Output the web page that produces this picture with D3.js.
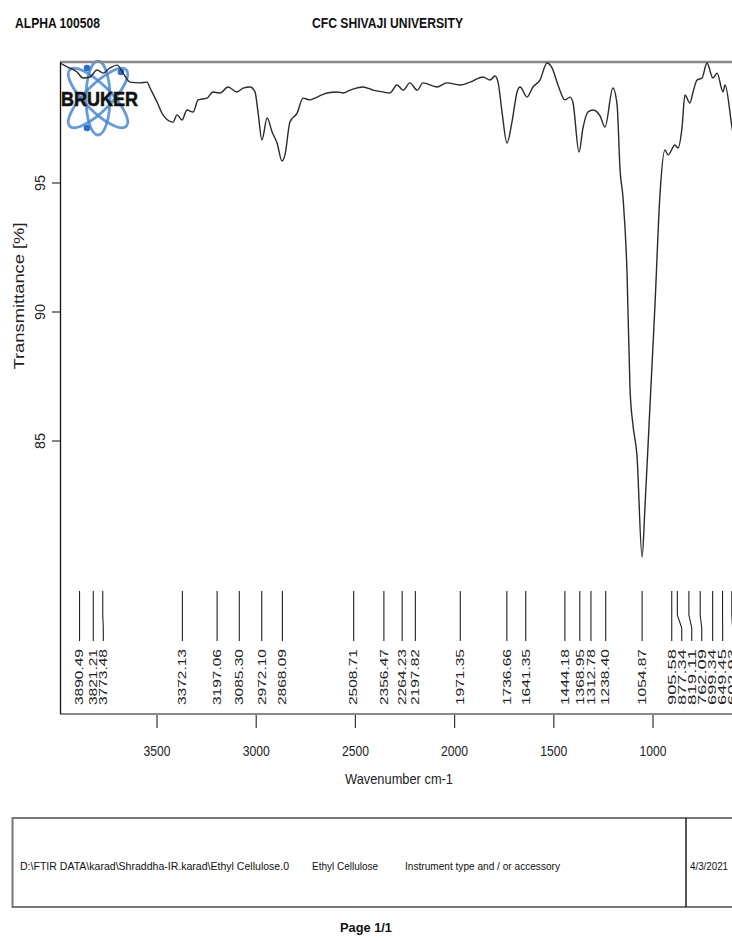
<!DOCTYPE html>
<html><head><meta charset="utf-8">
<script src="https://cdn.jsdelivr.net/npm/d3@7"></script>
<style>body{margin:0;background:#fff}svg{display:block}</style>
</head><body>
<svg id="c" width="732" height="941"></svg>
<script>
// ---- data ----
const wavenumbers = [3989,3953,3903,3873,3838,3802,3772,3737,3701,3671,3636,3586,3550,3535,3500,3470,3419,3399,3374,3349,3318,3293,3248,3218,3182,3142,3097,3066,3031,3006,2991,2971,2945,2920,2895,2870,2855,2830,2794,2764,2729,2693,2643,2593,2562,2527,2462,2411,2361,2326,2290,2260,2225,2189,2159,2089,2038,1973,1922,1857,1822,1796,1781,1761,1736,1711,1685,1670,1635,1605,1570,1534,1509,1479,1444,1418,1403,1373,1353,1328,1302,1267,1242,1202,1181,1166,1151,1131,1116,1101,1081,1055,1040,1015,990,965,940,924,889,874,854,839,814,798,778,753,728,698,677,647,637,602,590];
const transmittance = [99.65,99.50,99.30,99.07,99.11,99.38,99.26,99.46,99.57,99.26,98.91,98.88,98.91,98.68,98.14,97.64,97.36,97.64,97.44,97.83,97.75,98.22,98.29,98.53,98.49,98.72,98.53,98.68,98.72,98.53,97.75,96.67,97.52,96.98,96.55,95.85,96.09,97.36,97.71,98.29,98.22,98.33,98.49,98.53,98.49,98.60,98.72,98.60,98.53,98.49,98.80,98.60,98.88,98.60,98.88,98.72,98.88,98.80,98.91,99.11,98.99,99.15,98.91,97.75,96.55,97.36,98.53,98.72,98.33,98.72,98.99,99.65,99.46,98.80,98.22,98.33,98.10,96.20,97.13,97.75,97.83,97.60,97.17,98.68,98.02,95.50,94.42,91.55,87.05,85.62,84.46,80.50,82.52,86.40,90.27,94.53,96.28,96.09,96.47,96.36,97.13,98.41,98.10,98.53,98.99,99.07,99.65,99.07,99.26,98.53,98.80,97.17,96.6];
const peakLabels = ["3890.49","3821.21","3773.48","3372.13","3197.06","3085.30","2972.10","2868.09","2508.71","2356.47","2264.23","2197.82","1971.35","1736.66","1641.35","1444.18","1368.95","1312.78","1238.40","1054.87","905.58","877.34","819.11","762.09","699.34","649.45","602.93"];
const xTicks = [3500,3000,2500,2000,1500,1000];
const yTicks = [95,90,85];

// ---- layout ----
const svg = d3.select("#c");
const FONT = "'Liberation Sans', Arial, Helvetica, sans-serif";
const L = 60, T = 62, B = 714, R = 900;
const x = d3.scaleLinear().domain([3989, 1000]).range([L, 653]);
const y = d3.scaleLinear().domain([95, 85]).range([183, 441]);

function txt(s, px, py, size, len, opts = {}) {
  const t = svg.append("text")
    .attr("font-family", FONT).attr("font-size", size)
    .attr("font-weight", opts.bold ? "bold" : "normal")
    .attr("fill", opts.fill || "#111")
    .attr("text-anchor", opts.anchor || "start")
    .attr("textLength", len).attr("lengthAdjust", "spacingAndGlyphs")
    .text(s);
  if (opts.rot) t.attr("transform", `translate(${px},${py}) rotate(-90)`);
  else t.attr("x", px).attr("y", py);
  if (opts.dy) t.attr("dy", opts.dy);
  return t;
}

// header
txt("ALPHA 100508", 15, 28, 14, 85, {bold: true});
txt("CFC SHIVAJI UNIVERSITY", 312, 28, 14, 151, {bold: true});

// clip
svg.append("clipPath").attr("id", "pc").append("rect")
  .attr("x", L).attr("y", T - 2).attr("width", R - L).attr("height", B - T + 2);

// Bruker logo
const logo = svg.append("g").attr("clip-path", "url(#pc)");
const cx = 98, cy = 98;
[[45, 40, 13], [-45, 40, 13], [90, 37, 12]].forEach(([a, rx, ry]) => {
  logo.append("ellipse").attr("cx", cx).attr("cy", cy).attr("rx", rx).attr("ry", ry)
    .attr("transform", `rotate(${a},${cx},${cy})`)
    .attr("fill", "none").attr("stroke", "#4a8ad6").attr("stroke-width", 2.8).attr("opacity", 0.85);
});
[[87, 68], [87, 128], [121, 72]].forEach(([px, py]) => {
  logo.append("circle").attr("cx", px).attr("cy", py).attr("r", 3.3).attr("fill", "#2c6fc6");
});
logo.append("text").attr("x", 61).attr("y", 106).attr("font-family", FONT)
  .attr("font-weight", "900").attr("font-size", 21).attr("fill", "#111")
  .attr("stroke", "#111").attr("stroke-width", 0.6)
  .attr("textLength", 77).attr("lengthAdjust", "spacingAndGlyphs").text("BRUKER");

// frame
svg.append("line").attr("x1", L).attr("x2", R).attr("y1", T).attr("y2", T)
  .attr("stroke", "#888").attr("stroke-width", 2.4);
svg.append("line").attr("x1", L).attr("x2", R).attr("y1", B).attr("y2", B)
  .attr("stroke", "#888").attr("stroke-width", 2.2);
svg.append("line").attr("x1", L + 0.5).attr("x2", L + 0.5).attr("y1", T).attr("y2", B)
  .attr("stroke", "#111").attr("stroke-width", 1.3);

// spectrum
const pts = wavenumbers.map((w, i) => [x(w), y(transmittance[i])]);
svg.append("path").attr("clip-path", "url(#pc)")
  .attr("d", d3.line().curve(d3.curveMonotoneX)(pts))
  .attr("fill", "none").attr("stroke", "#2a2a2a").attr("stroke-width", 1.4);

// x axis ticks
const xg = svg.append("g");
xTicks.forEach(v => {
  xg.append("line").attr("x1", x(v)).attr("x2", x(v)).attr("y1", B + 1).attr("y2", B + 14)
    .attr("stroke", "#333").attr("stroke-width", 1.2);
  txt(String(v), x(v), 756, 15, 27, {anchor: "middle", fill: "#222"});
});
txt("Wavenumber cm-1", 399, 784, 15, 108, {anchor: "middle", fill: "#222"});

// y axis ticks
yTicks.forEach(v => {
  svg.append("line").attr("x1", 52).attr("x2", L).attr("y1", y(v)).attr("y2", y(v))
    .attr("stroke", "#333").attr("stroke-width", 1.2);
  txt(String(v), 45, y(v), 15, 16, {anchor: "middle", rot: true, fill: "#222"});
});
txt("Transmittance [%]", 24, 296, 14, 147, {anchor: "middle", rot: true, fill: "#222"});

// peak markers
const peaks = peakLabels.map(s => ({s, px: x(+s)}));
let prev = -1e9;
peaks.forEach(p => { p.lx = Math.max(p.px, prev + 10); prev = p.lx; });
const pg = svg.append("g");
peaks.forEach(p => {
  pg.append("path")
    .attr("d", `M${p.px},591 L${p.px},615 L${p.lx},628 L${p.lx},641`)
    .attr("fill", "none").attr("stroke", "#222").attr("stroke-width", 1.1);
  txt(p.s, p.lx, 705, 10.5, 56, {rot: true, dy: "0.36em", fill: "#222"});
});

// bottom info box
svg.append("rect").attr("x", 12.5).attr("y", 818).attr("width", 900).attr("height", 89)
  .attr("fill", "none").attr("stroke", "#777").attr("stroke-width", 2);
svg.append("line").attr("x1", 686).attr("x2", 686).attr("y1", 818).attr("y2", 907)
  .attr("stroke", "#111").attr("stroke-width", 1.4);
txt("D:\\FTIR DATA\\karad\\Shraddha-IR.karad\\Ethyl Cellulose.0", 20, 870, 11, 269);
txt("Ethyl Cellulose", 312, 870, 11, 66);
txt("Instrument type and / or accessory", 405, 870, 11, 155);
txt("4/3/2021", 690, 870, 11, 38);
txt("Page 1/1", 366, 932, 13, 52, {bold: true, anchor: "middle"});
</script>
</body></html>
